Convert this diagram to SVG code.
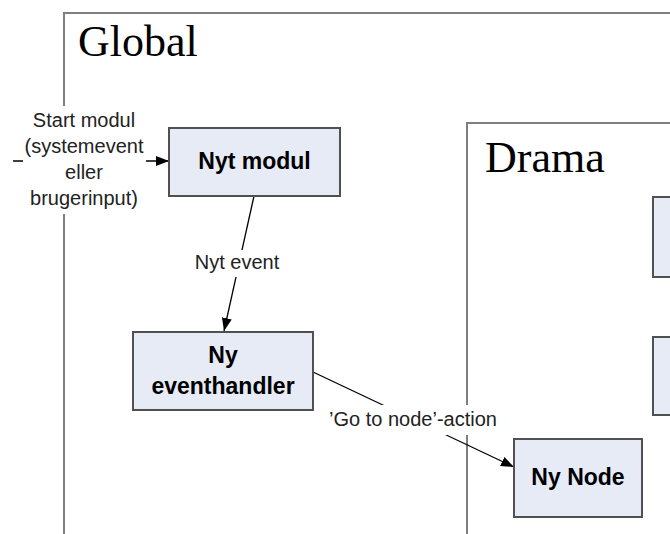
<svg xmlns="http://www.w3.org/2000/svg" width="670" height="534" viewBox="0 0 670 534">
  <style>
    .frame { fill: #ffffff; stroke: #7f7f7f; stroke-width: 2; }
    .node rect { fill: #e6ebf6; stroke: #505050; stroke-width: 2; }
    .node text { font-family: "Liberation Sans", Arial, sans-serif; font-weight: bold; font-size: 23px; fill: #000; text-anchor: middle; }
    .title { font-family: "Liberation Serif", "Times New Roman", serif; font-size: 44px; fill: #000; }
    .edge { stroke: #000; stroke-width: 1.3; fill: none; marker-end: url(#arrow); }
    .lbl-bg { fill: #ffffff; }
    .lbl { font-family: "Liberation Sans", Arial, sans-serif; font-size: 20px; fill: #222; text-anchor: middle; }
  </style>
  <defs>
    <marker id="arrow" markerUnits="userSpaceOnUse" markerWidth="14" markerHeight="12" refX="13" refY="6" orient="auto">
      <path d="M0,1 L13,6 L0,11 Z" fill="#000"/>
    </marker>
  </defs>

  <rect width="670" height="534" fill="#ffffff"/>

  <!-- containers -->
  <g id="global">
    <rect class="frame" x="64" y="13" width="620" height="540"/>
    <text class="title" x="78" y="56">Global</text>
  </g>
  <g id="drama">
    <rect class="frame" x="467" y="123" width="220" height="430"/>
    <text class="title" x="485" y="172">Drama</text>
  </g>

  <!-- connectors -->
  <g id="connectors">
    <line class="edge" x1="13" y1="161" x2="169" y2="161"/>
    <line class="edge" x1="254" y1="196" x2="224" y2="331"/>
    <line class="edge" x1="313" y1="372" x2="514" y2="467"/>

    <rect class="lbl-bg" x="23" y="106" width="123" height="108"/>
    <text class="lbl" x="84" y="127">Start modul</text>
    <text class="lbl" x="84" y="153">(systemevent</text>
    <text class="lbl" x="84" y="179">eller</text>
    <text class="lbl" x="84" y="205">brugerinput)</text>

    <rect class="lbl-bg" x="191" y="250" width="92" height="27"/>
    <text class="lbl" x="237" y="269">Nyt event</text>

    <rect class="lbl-bg" x="323" y="405" width="180" height="30"/>
    <text class="lbl" x="413" y="426">’Go to node’-action</text>
  </g>

  <!-- nodes -->
  <g id="nyt-modul" class="node">
    <rect x="169" y="128" width="171" height="68"/>
    <text x="254.5" y="169">Nyt modul</text>
  </g>
  <g id="ny-eventhandler" class="node">
    <rect x="133" y="332" width="180" height="78"/>
    <text x="223" y="363">Ny</text>
    <text x="223" y="394">eventhandler</text>
  </g>
  <g id="ny-node" class="node">
    <rect x="514" y="439" width="128" height="78"/>
    <text x="578" y="485">Ny Node</text>
  </g>
  <g id="drama-node-1" class="node">
    <rect x="653" y="197" width="40" height="80"/>
  </g>
  <g id="drama-node-2" class="node">
    <rect x="653" y="337" width="40" height="78"/>
  </g>
</svg>
